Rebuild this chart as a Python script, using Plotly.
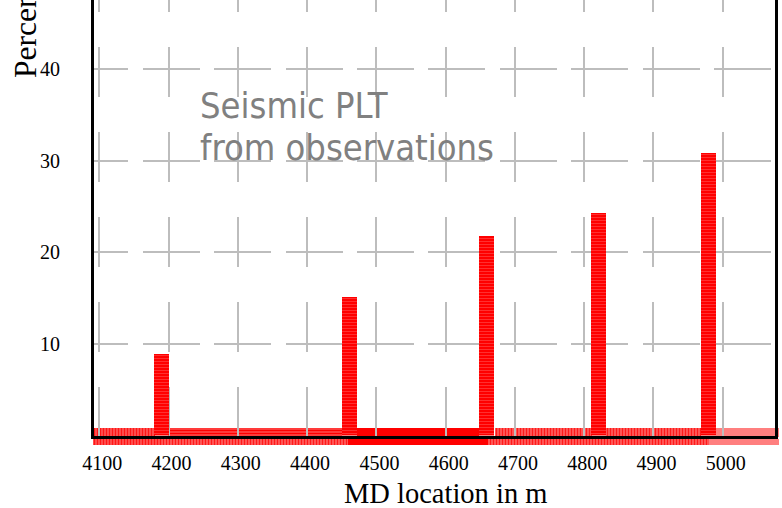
import plotly.graph_objects as go

# ---------------- data ----------------
md_location = [4190, 4461, 4659, 4820, 4979]          # m
percent = [8.85, 15.1, 21.8, 24.3, 30.8]             # %
x_tick_values = [4100, 4200, 4300, 4400, 4500, 4600, 4700, 4800, 4900, 5000]
y_tick_values = [10, 20, 30, 40]

upper_start = [4090, 4201, 4472, 4670, 4831, 4990]
upper_end = [4179, 4450, 4648, 4810, 4968, 5080]
upper_style = ["vs_white", "hs", "solid", "vs_red", "vs_red", "pink"]

lower_start = [4090, 4190, 4459, 4660, 4979]
lower_end = [4190, 4459, 4660, 4979, 5080]
lower_style = ["vs_white", "vs_red", "solid", "vs_red", "pink"]

title_lines = ["Seismic PLT", "from observations"]
x_title = "MD location in m"
y_title = "Percentage"

# ---------------- geometry ----------------
W, H = 782, 508
ML, MR = 90, 3
PW = W - ML - MR
PX_PER_M = 0.6927
X0_PX = 99.3          # pixel of 4100 m
PX_PER_PCT = 9.158
BOTTOM_PX = 435.5


def m_at(px):
    return 4100 + (px - X0_PX) / PX_PER_M


def fx(px):
    return (px - ML) / PW


def fy(py):
    return (H - py) / H


STYLES = {
    "vs_white": dict(color="#ff0000", shape="|", bg="#ffffff", fg="#ff0000", size=3, sol=0.45),
    "hs": dict(color="#ff0000", shape="-", bg="#ff0000", fg="#ff7070", size=3, sol=0.3),
    "solid": dict(color="#ff0000", shape="", bg="#ff0000", fg="#ff0000", size=3, sol=0.3),
    "vs_red": dict(color="#ff1a1a", shape="|", bg="#ff1a1a", fg="#ff8c8c", size=3, sol=0.35),
    "pink": dict(color="#ff7f7f", shape="", bg="#ff7f7f", fg="#ff7f7f", size=3, sol=0.3),
}


def band_trace(starts, ends, styles, yc, w):
    st = [STYLES[s] for s in styles]
    return go.Bar(
        orientation="h",
        base=starts,
        x=[e - s for s, e in zip(starts, ends)],
        y=[yc] * len(starts),
        width=w,
        marker=dict(
            color=[s["color"] for s in st],
            line=dict(width=0),
            pattern=dict(
                shape=[s["shape"] for s in st],
                bgcolor=[s["bg"] for s in st],
                fgcolor=[s["fg"] for s in st],
                size=[s["size"] for s in st],
                solidity=[s["sol"] for s in st],
            ),
        ),
        xaxis="x",
        yaxis="y",
        hoverinfo="skip",
        showlegend=False,
    )


fig = go.Figure()
fig.add_trace(band_trace(upper_start, upper_end, upper_style, 0.765, 0.45))
fig.add_trace(band_trace(lower_start, lower_end, lower_style, 0.225, 0.34))

fig.add_trace(go.Bar(
    x=md_location,
    y=percent,
    width=21.7,
    marker=dict(
        color="#ff0000",
        line=dict(width=0),
        pattern=dict(shape="-", bgcolor="#ff0000", fgcolor="#ff6a6a", size=3, solidity=0.3),
    ),
    xaxis="x2",
    yaxis="y2",
    showlegend=False,
))

# dash patterns for the cross-like grid
vdash = [12, 35] + [50, 35] * 6
hdash = [34.4, 14.3] + [57.1, 14.3] * 10
vdash_s = ",".join(f"{v}px" for v in vdash)
hdash_s = ",".join(f"{v}px" for v in hdash)

serif = "Liberation Serif, Times New Roman, serif"
grid_color = "#bdbdbd"

band_left, band_right = 91.5, W - MR

fig.update_layout(
    width=W,
    height=H,
    margin=dict(l=ML, r=MR, t=0, b=0),
    paper_bgcolor="white",
    plot_bgcolor="rgba(0,0,0,0)",
    barmode="overlay",
    bargap=0,
    showlegend=False,
    xaxis=dict(
        domain=[fx(band_left), 1.0],
        range=[m_at(band_left), m_at(band_right)],
        visible=False,
        fixedrange=True,
    ),
    yaxis=dict(
        domain=[fy(446), fy(427.5)],
        range=[0, 1],
        visible=False,
        fixedrange=True,
    ),
    xaxis2=dict(
        domain=[fx(94), fx(775)],
        range=[m_at(94), m_at(775)],
        anchor="y2",
        tickmode="array",
        tickvals=x_tick_values,
        ticktext=[str(v) for v in x_tick_values],
        ticks="",
        showline=True,
        linecolor="black",
        linewidth=3,
        mirror=False,
        showgrid=True,
        gridcolor=grid_color,
        gridwidth=1.5,
        griddash=vdash_s,
        zeroline=False,
        tickfont=dict(family=serif, size=20, color="black"),
        ticklabelstandoff=7,
        ticklabelshift=3,
    ),
    yaxis2=dict(
        domain=[fy(BOTTOM_PX), 1],
        range=[0, BOTTOM_PX / PX_PER_PCT],
        anchor="x2",
        tickmode="array",
        tickvals=y_tick_values,
        ticktext=[str(v) for v in y_tick_values],
        ticks="",
        showline=True,
        linecolor="black",
        linewidth=3,
        mirror=True,
        showgrid=True,
        gridcolor=grid_color,
        gridwidth=1.5,
        griddash=hdash_s,
        zeroline=False,
        tickfont=dict(family=serif, size=20, color="black"),
        ticklabelstandoff=27,
    ),
)

sans = "DejaVu Sans Condensed, DejaVu Sans, sans-serif"
for txt, ypx in zip(title_lines, [106, 147]):
    fig.add_annotation(
        text=txt, xref="paper", yref="paper", x=fx(198), y=fy(ypx),
        xanchor="left", yanchor="middle", showarrow=False,
        font=dict(family=sans, size=36, color="#808080"),
    )

fig.add_annotation(
    text=x_title, xref="paper", yref="paper", x=fx(445), y=fy(493.5),
    xanchor="center", yanchor="middle", showarrow=False,
    font=dict(family=serif, size=28.5, color="black"),
)
fig.add_annotation(
    text=y_title, xref="paper", yref="paper", x=fx(25), y=fy(80),
    xanchor="center", yanchor="bottom", textangle=-90, showarrow=False,
    font=dict(family=serif, size=31.5, color="black"),
)

fig.write_html(
    "out.html",
    config={"displayModeBar": False},
    post_script="document.body.style.margin='0px';document.body.style.overflow='hidden';",
)
